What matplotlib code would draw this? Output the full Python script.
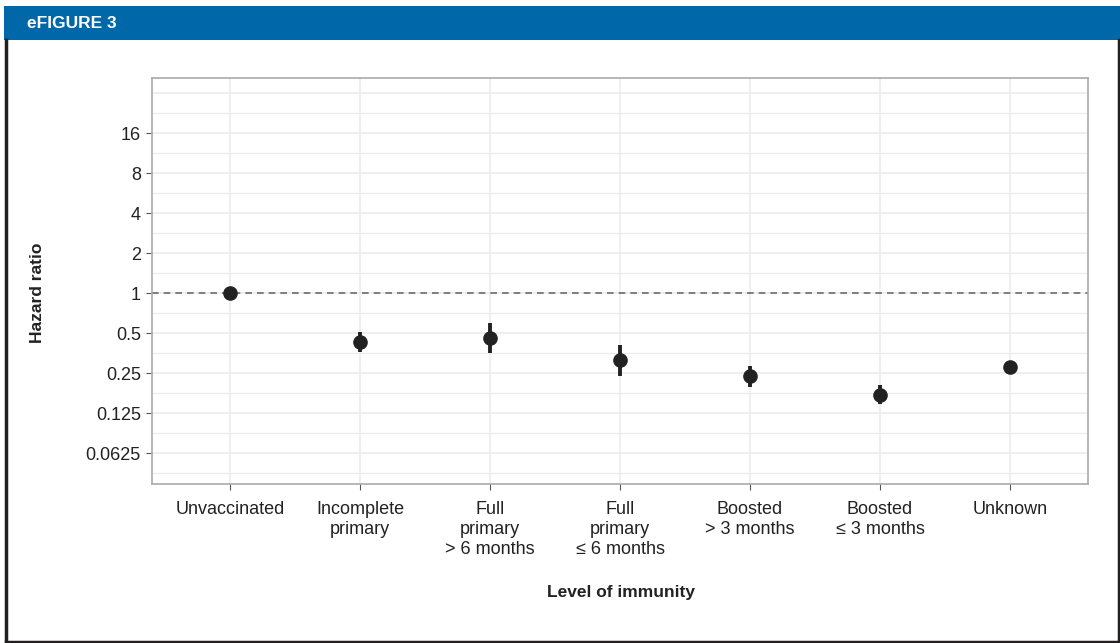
import numpy as np
import matplotlib
matplotlib.use("Agg")
import matplotlib.pyplot as plt
from matplotlib import font_manager
from matplotlib.patches import Rectangle
from matplotlib.lines import Line2D

# podaci
kategorije = ["Unvaccinated", "Incomplete\nprimary", "Full\nprimary\n> 6 months",
              "Full\nprimary\n\u2264 6 months", "Boosted\n> 3 months",
              "Boosted\n\u2264 3 months", "Unknown"]
hr = [1.0, 0.426, 0.461, 0.313, 0.237, 0.172, 0.279]
ci_donja = [1.0, 0.361, 0.352, 0.237, 0.197, 0.145, 0.266]
ci_gornja = [1.0, 0.507, 0.598, 0.406, 0.282, 0.203, 0.292]
y_oznake = [0.0625, 0.125, 0.25, 0.5, 1, 2, 4, 8, 16]
y_tekst = ["0.0625", "0.125", "0.25", "0.5", "1", "2", "4", "8", "16"]

imena = {f.name for f in font_manager.fontManager.ttflist}
font = "Liberation Sans Narrow" if "Liberation Sans Narrow" in imena else "Liberation Sans"
plt.rcParams["font.family"] = [font, "DejaVu Sans"]

W, H = 1120, 643
fig = plt.figure(figsize=(W / 100, H / 100), dpi=100)

# okvir i plavo zaglavlje
fig.patches.append(Rectangle((4 / W, 1 - 40 / H), 1 - 4 / W, 34 / H, transform=fig.transFigure,
                             facecolor="#0067a9", edgecolor="none"))
fig.text(27 / W, 1 - 23 / H, "eFIGURE 3", color="white", fontsize=12.5, fontweight="bold",
         va="center", ha="left")
for xs, ys in [([5.5, 5.5], [40, 642]), ([5.5, 1118.5], [641.5, 641.5]), ([1118.5, 1118.5], [40, 642])]:
    fig.add_artist(Line2D([x / W for x in xs], [1 - y / H for y in ys], transform=fig.transFigure,
                          color="#231f20", lw=2.5))

ax = fig.add_axes([152 / W, (H - 484) / H, 936 / W, 406 / H])
x = np.arange(1, len(kategorije) + 1)

ax.set_yscale("log", base=2)
ax.set_ylim(2 ** -4.775, 2 ** 5.375)
ax.set_xlim(0.4, 7.6)

# mreža
for e in np.arange(-4.5, 5.5, 0.5):
    ax.axhline(2 ** e, color="#ebebeb", lw=1.1 if e == int(e) else 0.8, zorder=0)
for xi in x:
    ax.axvline(xi, color="#ebebeb", lw=1.1, zorder=0)

ax.axhline(1, color="#6b6b6b", lw=1.2, ls=(0, (4, 3)), zorder=1)

yerr = [np.array(hr) - np.array(ci_donja), np.array(ci_gornja) - np.array(hr)]
ax.errorbar(x, hr, yerr=yerr, fmt="o", color="#222222", ms=9.5, elinewidth=2.8,
            capsize=0, zorder=3)

ax.set_yticks(y_oznake)
ax.set_yticklabels(y_tekst)
ax.minorticks_off()
ax.set_xticks(x)
ax.set_xticklabels(kategorije, linespacing=1.25)
ax.tick_params(axis="both", colors="#555555", labelcolor="#222222", labelsize=13, length=4, width=0.8)
ax.tick_params(axis="x", pad=8)
ax.tick_params(axis="y", pad=4)
for s in ax.spines.values():
    s.set_color("#aaaaaa")
    s.set_linewidth(1.2)

fig.text(38 / W, 1 - 293 / H, "Hazard ratio", rotation=90, fontsize=12.5, fontweight="bold",
         va="center", ha="center", color="#222222")
fig.text(621 / W, 1 - 592 / H, "Level of immunity", fontsize=12.5, fontweight="bold",
         va="center", ha="center", color="#222222")

fig.savefig("out.png", dpi=100, facecolor="white")
